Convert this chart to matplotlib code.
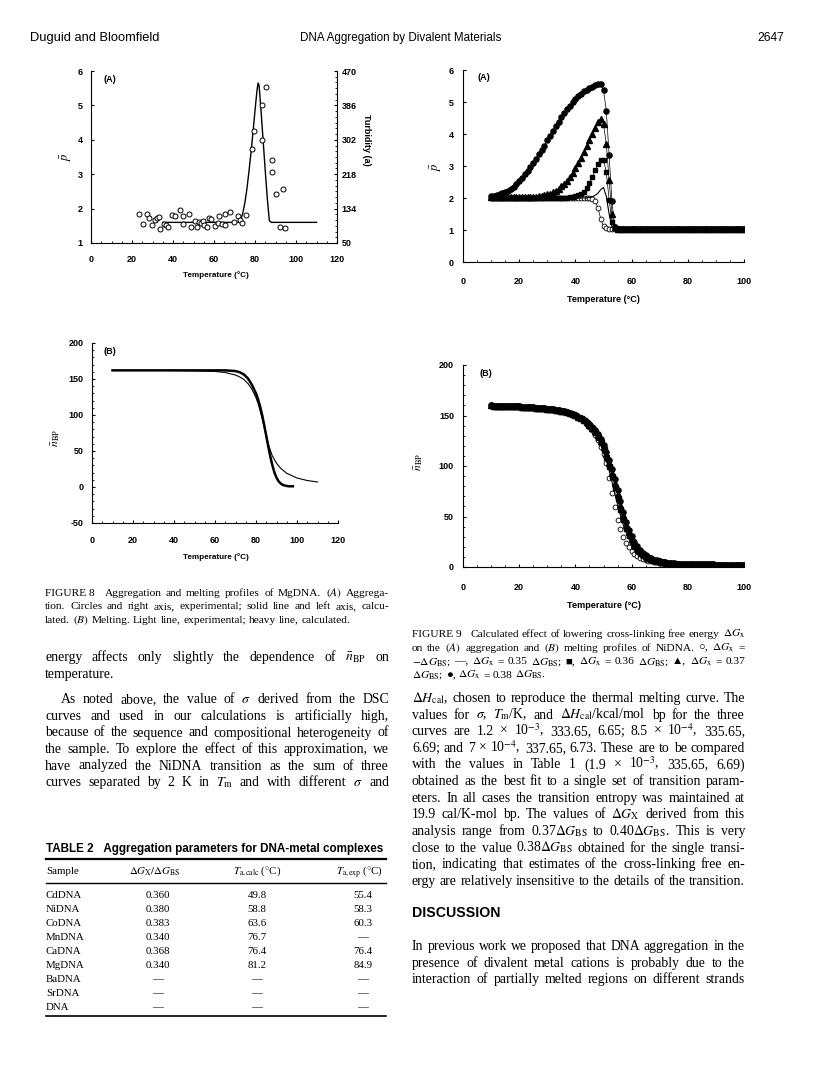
import matplotlib
matplotlib.use('Agg')
import matplotlib.pyplot as plt
from matplotlib.lines import Line2D
from matplotlib.ticker import MultipleLocator, FixedLocator
import numpy as np

# ---------------- data ----------------
# Fig 8A, MgDNA aggregation: calculated p (left axis) and measured turbidity (right axis)
mg_calc_t = [35, 45, 55, 65, 70, 72, 73, 74, 75, 76, 77, 78, 79, 80, 81, 81.5, 82, 83, 84, 85, 86, 87, 88, 95, 110]
mg_calc_p = [1.60, 1.60, 1.60, 1.60, 1.60, 1.60, 1.68, 1.85, 2.15, 2.55, 3.05, 3.60, 4.20, 4.85, 5.45, 5.65, 5.58,
             4.80, 3.95, 3.10, 2.30, 1.65, 1.60, 1.60, 1.60]
mg_exp_t = [23.3, 25.4, 27.3, 28.5, 29.8, 31.4, 32.2, 33.0, 33.5, 35.4, 36.7, 37.6, 39.5, 40.8, 43.6, 44.7, 44.9,
            47.8, 48.8, 50.6, 51.7, 52.8, 53.7, 54.6, 55.0, 56.6, 57.7, 58.7, 60.7, 61.8, 62.6, 63.9, 65.5, 65.5,
            67.6, 69.6, 71.5, 72.5, 73.7, 75.8, 78.5, 79.5, 83.3, 83.6, 85.4, 88.5, 88.3, 90.4, 93.5, 92.3, 94.5]
mg_exp_turb = [121, 96, 121, 110, 94, 105, 112, 113, 83, 97, 93, 89, 118, 115, 131, 116, 97, 122, 90, 104, 89, 101,
               99, 103, 93, 90, 110, 108, 92, 99, 115, 97, 122, 94, 125, 101, 117, 107, 100, 119, 279, 324, 387,
               302, 430, 252, 223, 170, 182, 90, 86]

# Fig 8B, MgDNA melting
heavy_t = [10, 20, 30, 40, 50, 60, 65, 70, 72, 74, 76, 78, 80, 81, 82, 83, 84, 85, 86, 87, 88, 89, 90, 91, 92, 93,
           94, 96, 98]
heavy_n = [162, 162, 162, 162, 162, 162, 162, 161, 159.5, 156.5, 151, 142, 130, 122, 112, 100, 86, 71, 56, 42, 30,
           20, 13, 8, 5, 3, 2, 1, 1]
light_t = [10, 20, 30, 40, 50, 60, 65, 70, 72, 74, 76, 78, 80, 81, 82, 83, 84, 85, 86, 87, 88, 90, 92, 95, 100,
           105, 110]
light_n = [162, 162, 162, 161.8, 161.3, 160.5, 159, 155.5, 153, 149.5, 144, 136, 124, 116, 106, 95, 83, 71, 60, 51,
           43, 33, 26, 19, 12.5, 9, 7]

# Fig 9A, NiDNA aggregation, 1 degree steps from 10 to 100
ni_t = np.arange(10, 101)
agg_tail = [1.04, 1.04, 1.04, 1.04, 1.04, 1.04, 1.04, 1.04, 1.04, 1.04, 1.04, 1.04, 1.04, 1.04, 1.04, 1.04,
            1.04, 1.04, 1.04, 1.04, 1.04, 1.04, 1.04, 1.04, 1.04, 1.04, 1.04, 1.04, 1.04, 1.04, 1.04, 1.04,
            1.04, 1.04, 1.04, 1.04, 1.04, 1.04, 1.04, 1.04, 1.04, 1.04, 1.04, 1.04, 1.04, 1.04]  # 55..100
agg_open = [2.00, 2.00, 2.00, 2.00, 2.00, 2.00, 2.00, 2.00, 2.00, 2.00, 2.00, 2.00, 2.00, 2.00, 2.00, 2.00,
            2.00, 2.00, 2.00, 2.00, 2.00, 2.00, 2.00, 2.00, 2.00, 2.00, 2.00, 2.00, 2.00, 2.00, 2.00, 2.00,
            2.00, 2.00, 2.00, 2.00, 1.98, 1.91, 1.70, 1.35, 1.12, 1.05, 1.04, 1.04, 1.04] + agg_tail
agg_line = [2.00, 2.00, 2.00, 2.00, 2.00, 2.00, 2.00, 2.00, 2.00, 2.00, 2.00, 2.00, 2.00, 2.00, 2.00, 2.00,
            2.00, 2.00, 2.00, 2.00, 2.00, 2.00, 2.00, 2.00, 2.00, 2.00, 2.00, 2.00, 2.00, 2.00, 2.00, 2.00,
            2.00, 2.00, 2.00, 2.02, 2.04, 2.08, 2.15, 2.26, 2.33, 2.05, 1.50, 1.10, 1.04] + agg_tail
agg_sq = [2.01, 2.01, 2.01, 2.01, 2.01, 2.01, 2.01, 2.01, 2.01, 2.01, 2.01, 2.01, 2.01, 2.01, 2.01, 2.01,
          2.01, 2.01, 2.01, 2.01, 2.01, 2.01, 2.01, 2.01, 2.01, 2.01, 2.01, 2.01, 2.02, 2.03, 2.05, 2.08,
          2.13, 2.20, 2.31, 2.46, 2.65, 2.86, 3.06, 3.19, 3.20, 2.80, 1.95, 1.25, 1.05] + agg_tail
agg_tri = [2.02, 2.02, 2.02, 2.02, 2.02, 2.02, 2.02, 2.02, 2.02, 2.02, 2.02, 2.02, 2.02, 2.02, 2.02,
           2.03, 2.04, 2.05, 2.07, 2.09, 2.11, 2.14, 2.18, 2.23, 2.29, 2.36, 2.44, 2.54, 2.65, 2.78,
           2.93, 3.09, 3.26, 3.44, 3.63, 3.82, 4.01, 4.20, 4.37, 4.46, 4.30, 3.70, 2.55, 1.50, 1.08] + agg_tail
agg_dot = [2.05, 2.07, 2.09, 2.12, 2.15, 2.19, 2.23, 2.28, 2.35, 2.44, 2.54, 2.64, 2.74, 2.85, 2.97,
           3.09, 3.22, 3.36, 3.50, 3.64, 3.80, 3.95, 4.10, 4.25, 4.39, 4.52, 4.65, 4.77, 4.89, 4.99,
           5.09, 5.18, 5.26, 5.33, 5.39, 5.44, 5.48, 5.52, 5.55, 5.56, 5.38, 4.72, 3.35, 1.90, 1.10] + agg_tail

# Fig 9B, NiDNA melting, same temperatures
melt_head = [160.0, 159.9, 159.8, 159.7, 159.6, 159.5, 159.4, 159.3, 159.2, 159.1, 159.0, 158.8, 158.7, 158.5,
             158.3, 158.1, 157.9, 157.7, 157.4, 157.1, 156.8, 156.5, 156.1, 155.7, 155.3, 154.8, 154.2, 153.5,
             152.7, 151.7, 150.5, 149.0, 147.3, 145.3]  # 10..43
melt_tail = [3.4, 3.3, 3.2, 3.1, 3.0, 2.9, 2.85, 2.8, 2.75, 2.7, 2.65, 2.6, 2.55, 2.5, 2.45, 2.4, 2.35, 2.3,
             2.25, 2.2, 2.2, 2.15, 2.1, 2.1, 2.05]  # 76..100
melt_open = melt_head + [142.0, 139.0, 135.5, 131.0, 125.5, 119.0, 112.0, 103.0, 88.5, 73.0, 59.0, 47.0, 37.5,
                         30.0, 24.0, 19.5, 16.0, 13.2, 11.0, 9.3, 8.0, 7.0, 6.2, 5.5, 5.0, 4.5, 4.1, 3.8, 3.5,
                         3.3, 3.1, 2.9] + [2.8, 2.7, 2.6, 2.5, 2.4, 2.35, 2.3, 2.25, 2.2, 2.15, 2.1, 2.05, 2.0,
                                           2.0, 1.95, 1.9, 1.9, 1.85, 1.85, 1.8, 1.8, 1.75, 1.75, 1.7, 1.7]
melt_line = melt_head + [142.5, 139.5, 136.0, 132.0, 127.0, 121.0, 114.0, 105.5, 95.5, 84.5, 73.0, 62.0, 51.5,
                         42.0, 34.5, 28.0, 23.0, 18.8, 15.5, 12.8, 10.7, 9.1, 7.8, 6.8, 6.0, 5.4, 4.9, 4.5, 4.1,
                         3.8, 3.5, 3.3] + melt_tail
melt_sq = melt_head + [143.0, 140.3, 137.2, 133.5, 129.0, 123.5, 117.0, 109.0, 100.0, 90.0, 79.5, 68.5, 57.5,
                       47.5, 39.0, 31.5, 25.5, 21.0, 17.2, 14.2, 11.8, 10.0, 8.6, 7.5, 6.6, 5.9, 5.3, 4.8, 4.4,
                       4.1, 3.8, 3.6] + melt_tail
melt_tri = melt_head + [143.5, 141.0, 138.0, 134.5, 130.3, 125.2, 119.0, 111.5, 103.0, 93.5, 83.0, 72.0, 61.0,
                        51.0, 42.0, 34.5, 28.0, 23.0, 19.0, 15.6, 13.0, 10.9, 9.3, 8.0, 7.0, 6.2, 5.6, 5.0, 4.6,
                        4.2, 3.9, 3.7] + melt_tail
melt_dot = melt_head + [144.0, 141.6, 138.8, 135.5, 131.5, 126.8, 121.0, 114.0, 106.0, 97.0, 87.0, 76.0, 65.0,
                        54.5, 45.0, 37.0, 30.5, 25.0, 20.5, 16.8, 14.0, 11.7, 9.9, 8.5, 7.4, 6.5, 5.8, 5.2, 4.7,
                        4.3, 4.0, 3.7] + melt_tail

# Table 2
table_samples = ['CdDNA', 'NiDNA', 'CoDNA', 'MnDNA', 'CaDNA', 'MgDNA', 'BaDNA', 'SrDNA', 'DNA']
table_ratio = ['0.360', '0.380', '0.383', '0.340', '0.368', '0.340', '\u2014', '\u2014', '\u2014']
table_tcalc = ['49.8', '58.8', '63.6', '76.7', '76.4', '81.2', '\u2014', '\u2014', '\u2014']
table_texp = ['55.4', '58.3', '60.3', '\u2014', '76.4', '84.9', '\u2014', '\u2014', '\u2014']

# ---------------- page set-up ----------------
W, H = 816, 1072
plt.rcParams['mathtext.fontset'] = 'stix'
plt.rcParams['axes.unicode_minus'] = False
SERIF = ['Liberation Serif', 'DejaVu Sans']
SANS = ['Liberation Sans', 'DejaVu Sans']
plt.rcParams['font.family'] = SANS

fig = plt.figure(figsize=(W / 100, H / 100), dpi=100)
fig.patch.set_facecolor('white')
renderer = fig.canvas.get_renderer()


def box(x0, y0, x1, y1):
    return fig.add_axes([x0 / W, 1 - y1 / H, (x1 - x0) / W, (y1 - y0) / H])


def ftext(x, y, s, **kw):
    return fig.text(x / W, 1 - y / H, s, **kw)


def fit_text(s, x0, x1, y, family=SANS, weight='bold', **kw):
    t = ftext(x0, y, s, fontsize=10, family=family, weight=weight, va='center', **kw)
    w = t.get_window_extent(renderer).width
    t.set_fontsize(10 * (x1 - x0) / w)
    return t


def words_line(s, x0, x1, y, size, justify=True, family=SERIF):
    # one line of justified text, placed word by word
    words = s.split(' ')
    arts = [ftext(x0, y, w, fontsize=size, family=family, va='baseline') for w in words]
    ws = [a.get_window_extent(renderer).width for a in arts]
    gap = size * 100 / 72 * 0.25
    if justify and len(arts) > 1:
        gap = (x1 - x0 - sum(ws)) / (len(arts) - 1)
    x = x0
    for a, w in zip(arts, ws):
        a.set_x(x / W)
        x += w + gap


def hrule(x0, x1, y, lw=1.0):
    fig.add_artist(Line2D([x0 / W, x1 / W], [1 - y / H, 1 - y / H], transform=fig.transFigure,
                          color='black', lw=lw))


def style(ax, xpad, ypad, keep_right=False):
    ax.spines['top'].set_visible(False)
    if not keep_right:
        ax.spines['right'].set_visible(False)
    for s in ax.spines.values():
        s.set_linewidth(0.8)
    ax.tick_params(which='major', direction='in', length=2.4, width=0.8, labelsize=6.5)
    ax.tick_params(which='minor', direction='in', length=1.5, width=0.6)
    ax.tick_params(axis='x', pad=xpad)
    ax.tick_params(axis='y', pad=ypad)
    for lab in ax.get_xticklabels() + ax.get_yticklabels():
        lab.set_fontweight('bold')
        lab.set_family(SANS)


# ---------------- header ----------------
fit_text('Duguid and Bloomfield', 30, 160, 38, weight='normal')
fit_text('DNA Aggregation by Divalent Materials', 300, 502, 38, weight='normal')
fit_text('2647', 757, 784, 38, weight='normal')

# ---------------- Figure 8A ----------------
ax = box(91, 71, 337, 243)
ax.plot(mg_calc_t, mg_calc_p, color='black', lw=1.0)
ax.set_xlim(0, 120)
ax.set_ylim(1, 6)
ax.set_xticks(range(0, 121, 20))
ax.xaxis.set_minor_locator(MultipleLocator(5))
ax.set_yticks(range(1, 7))
style(ax, 8.5, 6)
ax2 = ax.twinx()
ax2.plot(mg_exp_t, mg_exp_turb, 'o', mfc='white', mec='black', ms=3.6, mew=0.7)
ax2.set_ylim(50, 470)
ax2.set_yticks([50, 134, 218, 302, 386, 470])
ax2.yaxis.set_minor_locator(FixedLocator(list(range(50, 471, 14))))
style(ax2, 8.5, 3.5, keep_right=True)
ax2.spines['left'].set_visible(False)
ax2.spines['bottom'].set_visible(False)
ftext(103, 79, '(A)', fontsize=6.5, weight='bold', va='center')
fit_text('Temperature (\u00b0C)', 183, 249, 275)
ftext(66, 157, r'$\bar{p}$', fontsize=9, rotation=90, ha='center', va='center')
ftext(366, 140, 'Turbidity (a)', fontsize=6.5, weight='bold', rotation=270, ha='center', va='center')

# ---------------- Figure 8B ----------------
ax = box(92, 343, 338, 523)
ax.plot(light_t, light_n, color='black', lw=0.8)
ax.plot(heavy_t, heavy_n, color='black', lw=1.8)
ax.set_xlim(0, 120)
ax.set_ylim(-50, 200)
ax.set_xticks(range(0, 121, 20))
ax.xaxis.set_minor_locator(MultipleLocator(5))
ax.set_yticks(range(-50, 201, 50))
ax.yaxis.set_minor_locator(MultipleLocator(10))
style(ax, 9.5, 6)
ftext(103, 351, '(B)', fontsize=6.5, weight='bold', va='center')
fit_text('Temperature (\u00b0C)', 183, 249, 557)
ftext(56, 438, r'$\bar{n}_{\mathrm{BP}}$', fontsize=8.5, rotation=90, ha='center', va='center')

# ---------------- Figure 9A ----------------
ax = box(463, 70, 744, 262)
ax.plot(ni_t, agg_open, '-o', color='black', mfc='white', mec='black', ms=3.5, mew=0.6, lw=0.5)
ax.plot(ni_t, agg_line, '-', color='black', lw=0.8)
ax.plot(ni_t, agg_sq, '-s', color='black', ms=3.3, lw=0.5)
ax.plot(ni_t, agg_tri, '-^', color='black', ms=3.8, lw=0.5)
ax.plot(ni_t, agg_dot, '-o', color='black', ms=3.7, lw=0.5)
ax.set_xlim(0, 100)
ax.set_ylim(0, 6)
ax.set_xticks(range(0, 101, 20))
ax.xaxis.set_minor_locator(MultipleLocator(5))
ax.set_yticks(range(0, 7))
style(ax, 10.5, 6.5)
ftext(477, 78, '(A)', fontsize=6.5, weight='bold', va='center')
fit_text('Temperature (\u00b0C)', 567, 640, 300)
ftext(436, 167, r'$\bar{p}$', fontsize=9, rotation=90, ha='center', va='center')

# ---------------- Figure 9B ----------------
ax = box(463, 365, 744, 567)
ax.plot(ni_t, melt_open, 'o', mfc='white', mec='black', ms=3.5, mew=0.6)
ax.plot(ni_t, melt_line, '-', color='black', lw=0.8)
ax.plot(ni_t, melt_tri, '^', color='black', ms=3.8)
ax.plot(ni_t, melt_dot, 'o', color='black', ms=3.7)
ax.plot(ni_t, melt_sq, 's', color='black', ms=3.6)
ax.set_xlim(0, 100)
ax.set_ylim(0, 200)
ax.set_xticks(range(0, 101, 20))
ax.xaxis.set_minor_locator(MultipleLocator(5))
ax.set_yticks(range(0, 201, 50))
ax.yaxis.set_minor_locator(MultipleLocator(10))
style(ax, 11.5, 6.5)
ftext(480, 374, '(B)', fontsize=6.5, weight='bold', va='center')
fit_text('Temperature (\u00b0C)', 567, 641, 606)
ftext(419, 462, r'$\bar{n}_{\mathrm{BP}}$', fontsize=8.5, rotation=90, ha='center', va='center')

# ---------------- captions and body text ----------------
LX0, LX1 = 45, 389
RX0, RX1 = 412, 745
CAP = 8.2
BODY = 9.9
DGX = r'$\Delta{G}_\mathrm{x}$'
DGBS = r'$\Delta{G}_\mathrm{BS}$'

cap8 = [
    (True, 'FIGURE\u00a08\u00a0\u00a0 Aggregation and melting profiles of MgDNA. $\\mathit{(A)}$ Aggrega-'),
    (True, 'tion. Circles and right axis, experimental; solid line and left axis, calcu-'),
    (False, 'lated. $\\mathit{(B)}$ Melting. Light line, experimental; heavy line, calculated.'),
]
for i, (j, s) in enumerate(cap8):
    words_line(s, LX0, LX1, 596 + 13.3 * i, CAP, justify=j)

cap9 = [
    (True, 'FIGURE\u00a09\u00a0\u00a0 Calculated effect of lowering cross-linking free energy ' + DGX),
    (True, 'on the $\\mathit{(A)}$ aggregation and $\\mathit{(B)}$ melting profiles of NiDNA. \u25cb, ' + DGX + ' ='),
    (True, '$-\\Delta{G}_\\mathrm{BS}$; \u2014, ' + DGX + ' = 0.35 ' + DGBS + '; \u25a0, ' + DGX + ' = 0.36 '
     + DGBS + '; \u25b2, ' + DGX + ' = 0.37'),
    (False, DGBS + '; \u25cf, ' + DGX + ' = 0.38 ' + DGBS + '.'),
]
for i, (j, s) in enumerate(cap9):
    words_line(s, RX0, RX1, 637 + 13.6 * i, CAP, justify=j)

left_body = [
    (657, 0, True, 'energy affects only slightly the dependence of $\\bar{n}_\\mathrm{BP}$ on'),
    (674, 0, False, 'temperature.'),
    (699, 16, True, 'As noted above, the value of $\\sigma$ derived from the DSC'),
    (716, 0, True, 'curves and used in our calculations is artificially high,'),
    (732.5, 0, True, 'because of the sequence and compositional heterogeneity of'),
    (749, 0, True, 'the sample. To explore the effect of this approximation, we'),
    (765.5, 0, True, 'have analyzed the NiDNA transition as the sum of three'),
    (782, 0, True, 'curves separated by 2 K in $T_\\mathrm{m}$ and with different $\\sigma$ and'),
]
for y, ind, j, s in left_body:
    words_line(s, LX0 + ind, LX1, y + 4, BODY, justify=j)

DHC = r'$\Delta{H}_\mathrm{cal}$'
right_body = [
    (True, DHC + ', chosen to reproduce the thermal melting curve. The'),
    (True, 'values for $\\sigma$, $T_\\mathrm{m}$/K, and ' + DHC + '/kcal/mol bp for the three'),
    (True, 'curves are 1.2 \u00d7 10$^{-3}$, 333.65, 6.65; 8.5 \u00d7 10$^{-4}$, 335.65,'),
    (True, '6.69; and 7 \u00d7 10$^{-4}$, 337.65, 6.73. These are to be compared'),
    (True, 'with the values in Table 1 (1.9 \u00d7 10$^{-3}$, 335.65, 6.69)'),
    (True, 'obtained as the best fit to a single set of transition param-'),
    (True, 'eters. In all cases the transition entropy was maintained at'),
    (True, '19.9 cal/K-mol bp. The values of $\\Delta{G}_\\mathrm{X}$ derived from this'),
    (True, 'analysis range from 0.37' + DGBS + ' to 0.40' + DGBS + '. This is very'),
    (True, 'close to the value 0.38' + DGBS + ' obtained for the single transi-'),
    (True, 'tion, indicating that estimates of the cross-linking free en-'),
    (True, 'ergy are relatively insensitive to the details of the transition.'),
]
for i, (j, s) in enumerate(right_body):
    words_line(s, RX0, RX1, 698 + 16.62 * i + 4, BODY, justify=j)

fit_text('DISCUSSION', 412, 500, 913)
disc = [
    'In previous work we proposed that DNA aggregation in the',
    'presence of divalent metal cations is probably due to the',
    'interaction of partially melted regions on different strands',
]
for i, s in enumerate(disc):
    words_line(s, RX0, RX1, 946 + 16.62 * i + 4, BODY, justify=True)

# ---------------- Table 2 ----------------
fit_text('TABLE 2\u00a0\u00a0\u00a0Aggregation parameters for DNA-metal complexes', 46, 383, 849)
hrule(46, 386, 858.5, lw=1.6)
TS = 7.8
ftext(46, 872, 'Sample', fontsize=TS, family=SERIF, va='center')
ftext(155, 872, r'$\Delta{G}_\mathrm{X}/\Delta{G}_\mathrm{BS}$', fontsize=TS, family=SERIF, ha='center', va='center')
ftext(257, 872, r'$T_\mathrm{a,calc}$ ($\degree$C)', fontsize=TS, family=SERIF, ha='center', va='center')
ftext(359, 872, r'$T_\mathrm{a,exp}$ ($\degree$C)', fontsize=TS, family=SERIF, ha='center', va='center')
hrule(46, 386, 882.5, lw=1.0)
for i in range(len(table_samples)):
    y = 896 + 14 * i
    ftext(46, y, table_samples[i], fontsize=TS, family=SERIF, va='center')
    ftext(158, y, table_ratio[i], fontsize=TS, family=SERIF, ha='center', va='center')
    ftext(257, y, table_tcalc[i], fontsize=TS, family=SERIF, ha='center', va='center')
    ftext(363, y, table_texp[i], fontsize=TS, family=SERIF, ha='center', va='center')
hrule(46, 386, 1016, lw=1.2)

fig.savefig('out.png', dpi=100, facecolor='white')
